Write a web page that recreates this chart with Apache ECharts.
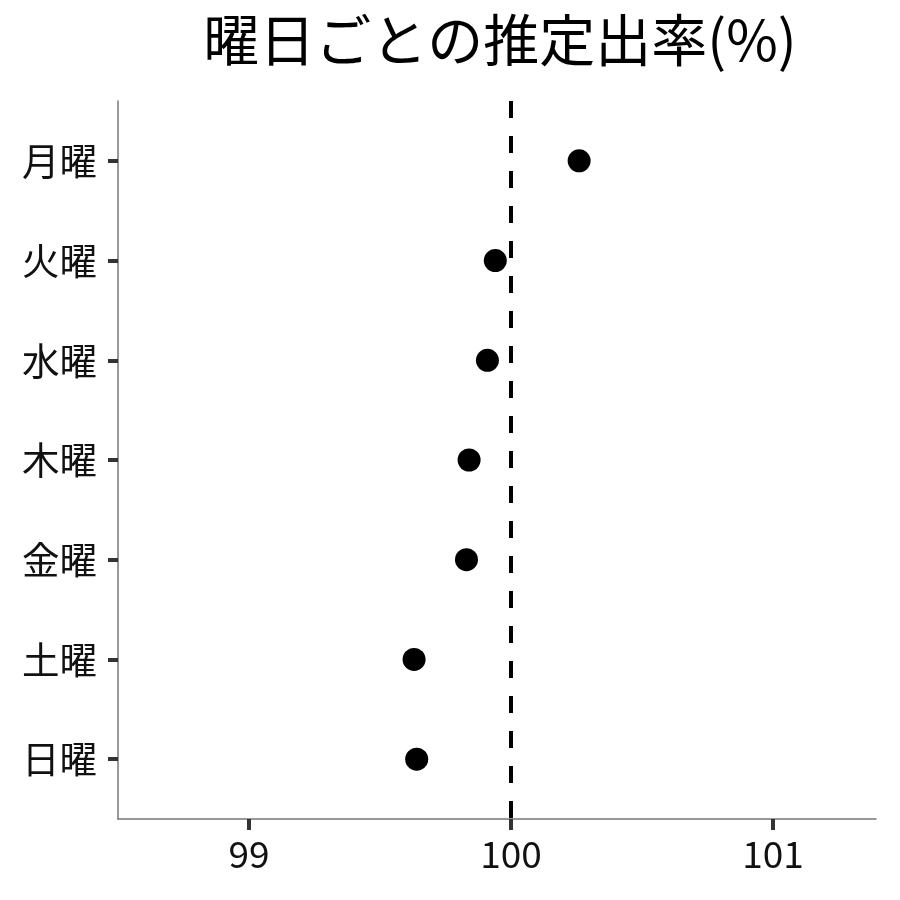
<!DOCTYPE html>
<html>
<head>
<meta charset="utf-8">
<script src="https://cdn.jsdelivr.net/npm/echarts@6/dist/echarts.min.js"></script>
<style>
  html, body { margin: 0; padding: 0; background: #fff; }
  #chart { width: 900px; height: 900px; }
</style>
</head>
<body>
<div id="chart"></div>
<script>
// 曜日（上から順）
const days = ['月曜', '火曜', '水曜', '木曜', '金曜', '土曜', '日曜'];
// 推定出率(%)
const rates = [100.26, 99.94, 99.91, 99.84, 99.83, 99.63, 99.64];
const xTicks = [99, 100, 101];
const refLine = 100;

const font = '"Noto Sans CJK JP", "Noto Sans", sans-serif';
const chart = echarts.init(document.getElementById('chart'));

chart.setOption({
  backgroundColor: '#fff',
  animation: false,
  title: {
    text: '曜日ごとの推定出率(%)',
    left: 495,
    textAlign: 'center',
    top: 7,
    textStyle: { fontFamily: font, fontSize: 56, fontWeight: 'normal', color: '#000' }
  },
  grid: { left: 118, right: 24, top: 101, bottom: 81 },
  xAxis: {
    type: 'value',
    min: 98.5,
    max: 101.393,
    axisLine: { show: true, onZero: false, lineStyle: { color: '#777', width: 1.5 } },
    axisTick: { show: true, length: 11, customValues: xTicks, lineStyle: { color: '#333', width: 4 } },
    axisLabel: {
      customValues: xTicks,
      margin: 16,
      fontFamily: font, fontSize: 37, color: '#111'
    },
    splitLine: { show: false }
  },
  yAxis: {
    type: 'value',
    inverse: true,
    min: -0.6,
    max: 6.6,
    axisLine: { show: true, onZero: false, lineStyle: { color: '#777', width: 1.5 } },
    axisTick: { show: true, length: 10, customValues: days.map((d, i) => i), lineStyle: { color: '#333', width: 4 } },
    axisLabel: {
      customValues: days.map((d, i) => i),
      formatter: v => days[Math.round(v)] || '',
      margin: 21,
      fontFamily: font, fontSize: 37.5, color: '#111'
    },
    splitLine: { show: false }
  },
  series: [{
    type: 'scatter',
    symbolSize: 23,
    itemStyle: { color: '#000', opacity: 1 },
    data: rates.map((r, i) => [r, i]),
    markLine: {
      silent: true,
      symbol: 'none',
      label: { show: false },
      lineStyle: { color: '#000', width: 4, type: [17, 18], opacity: 1 },
      data: [{ xAxis: refLine }]
    }
  }]
});
</script>
</body>
</html>
